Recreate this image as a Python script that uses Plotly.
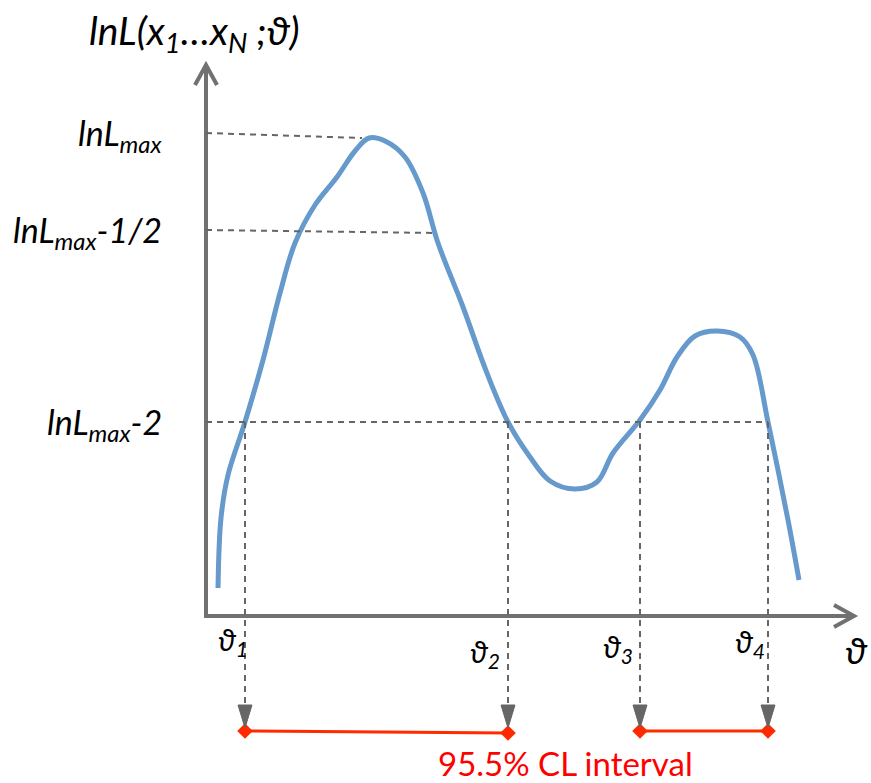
import plotly.graph_objects as go

W, H = 871, 783

# Schematic curve (x = theta, y = lnL, in drawing units)
theta_curve = [218, 221, 228, 245, 263, 280, 295, 315, 337, 355, 369, 385, 405, 423, 438, 463, 485, 508, 530, 550, 575, 597, 613, 640, 660, 677, 695, 717, 740, 753, 768, 788, 799]
lnL_curve = [195, 265, 308, 361, 423, 490, 540, 578, 606, 632, 645, 642, 626, 590, 540, 476, 415, 361, 326, 302, 294, 301, 330, 363, 393, 426, 447, 452, 446, 428, 361, 263, 203]

# Levels and crossings
level_values = [650, 553, 361]          # lnLmax, lnLmax-1/2, lnLmax-2
level_ends = [362, 437, 768]
level_end_values = [645, 550, 361]
level_labels = ["<i>lnL<sub>max</sub></i>", "<i>lnL<sub>max</sub>-1/2</i>", "<i>lnL<sub>max</sub>-2</i>"]
theta_cross = [245, 508, 640, 768]
theta_labels = ["<i>ϑ<sub>1</sub></i>", "<i>ϑ<sub>2</sub></i>", "<i>ϑ<sub>3</sub></i>", "<i>ϑ<sub>4</sub></i>"]
theta_label_x = [233, 485, 618, 750]
theta_label_y = [142, 130, 135, 140]
interval_y = [[52, 50], [52, 52]]

ax_x0, ax_y0 = 206, 167
ax_xmax, ax_ymax = 854, 718
grey = "#717171"
dash_grey = "#666666"
red = "#ff2a00"
font = "Lato"

fig = go.Figure()

# axes
fig.add_shape(type="line", x0=ax_x0, y0=ax_y0, x1=ax_x0, y1=ax_ymax, line=dict(color=grey, width=4))
fig.add_shape(type="line", x0=ax_x0 - 2, y0=ax_y0, x1=ax_xmax, y1=ax_y0, line=dict(color=grey, width=4))
fig.add_shape(type="path", path=f"M {ax_x0-11},{ax_ymax-20} L {ax_x0},{ax_ymax} L {ax_x0+11},{ax_ymax-20}",
              line=dict(color=grey, width=4))
fig.add_shape(type="path", path=f"M {ax_xmax-20},{ax_y0+11} L {ax_xmax},{ax_y0} L {ax_xmax-20},{ax_y0-11}",
              line=dict(color=grey, width=4))

# horizontal dashed levels
for lv, le, lev in zip(level_values, level_ends, level_end_values):
    fig.add_shape(type="line", x0=ax_x0, y0=lv, x1=le, y1=lev, line=dict(color=dash_grey, width=2, dash="6px,5px"))

# vertical dashed drops
for tx in theta_cross:
    fig.add_shape(type="line", x0=tx, y0=361, x1=tx, y1=70, line=dict(color=dash_grey, width=2, dash="6px,5px"))
    fig.add_shape(type="path", path=f"M {tx-7},{78} L {tx+7},{78} L {tx},{55} Z",
                  line=dict(color=dash_grey, width=1), fillcolor=dash_grey)

# curve
fig.add_trace(go.Scatter(x=theta_curve, y=lnL_curve, mode="lines", line=dict(color="#6699cc", width=5, shape="spline", smoothing=1.0),
                         hoverinfo="skip"))

# intervals
for (a, b), ys in zip([(theta_cross[0], theta_cross[1]), (theta_cross[2], theta_cross[3])], interval_y):
    fig.add_trace(go.Scatter(x=[a, b], y=ys, mode="lines+markers",
                             line=dict(color=red, width=3),
                             marker=dict(symbol="diamond", size=12, color=red), hoverinfo="skip"))

annots = []
annots.append(dict(x=194, y=750, text="<i>lnL(x<sub>1</sub>…x<sub>N</sub> ;ϑ)</i>", font=dict(size=39, color="black", family=font)))
for lv, lab in zip(level_values, level_labels):
    annots.append(dict(x=164, y=lv - 2, text=lab, xanchor="right", font=dict(size=34, color="black", family=font)))
for tx, ty, lab in zip(theta_label_x, theta_label_y, theta_labels):
    annots.append(dict(x=tx, y=ty, text=lab, font=dict(size=30, color="black", family=font)))
annots.append(dict(x=856, y=134, text="<i>ϑ</i>", font=dict(size=37, color="black", family=font)))
annots.append(dict(x=565, y=20, text="95.5% CL interval", font=dict(size=33, color="red", family=font)))
for a in annots:
    a.update(xref="x", yref="y", showarrow=False)
fig.update_layout(annotations=annots)

fig.update_layout(width=W, height=H, margin=dict(l=0, r=0, t=0, b=0),
                  paper_bgcolor="white", plot_bgcolor="white", showlegend=False,
                  xaxis=dict(range=[0, W], visible=False, fixedrange=True),
                  yaxis=dict(range=[0, H], visible=False, fixedrange=True))
fig.write_html("out.html")
